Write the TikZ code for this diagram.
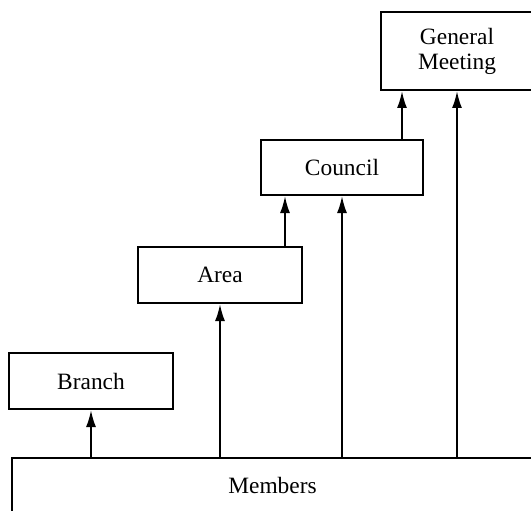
\documentclass[tikz,border=0pt]{standalone}
\usepackage{fontspec}
\setmainfont{Liberation Serif}
\usetikzlibrary{shapes, arrows.meta, positioning}

\begin{document}
\begin{tikzpicture}[
  x=0.5pt, y=0.5pt,
  line width=1pt,
  box/.style={draw, rectangle, inner sep=0pt, align=center,
    font=\fontsize{11.7}{12.5}\selectfont},
  up/.style={-{Latex[length=8.5pt,width=5pt]}}]

  \useasboundingbox (0,0) rectangle (531,510);
  \clip (0,0) rectangle (531,510);

  \node[box, minimum width=260.5pt, minimum height=27pt] (members) at (272.5,25) {Members};
  \node[box, minimum width=82pt, minimum height=28pt] (branch) at (91,129) {Branch};
  \node[box, minimum width=82pt, minimum height=28pt] (area) at (220,235) {Area};
  \node[box, minimum width=81pt, minimum height=27.5pt] (council) at (342,342.5) {Council};
  \node[box, minimum width=76pt, minimum height=39pt] (meeting) at (457,459) {General\\Meeting};

  % members up to each level
  \draw[up] (branch.south |- members.north) -- (branch.south);
  \draw[up] (area.south |- members.north) -- (area.south);
  \draw[up] (council.south |- members.north) -- (council.south);
  \draw[up] (meeting.south |- members.north) -- (meeting.south);

  % one level up to the next
  \draw[up] ([xshift=-9pt]area.north east) -- ([xshift=-9pt]area.north east |- council.south);
  \draw[up] ([xshift=-11pt]council.north east) -- ([xshift=-11pt]council.north east |- meeting.south);
\end{tikzpicture}
\end{document}
